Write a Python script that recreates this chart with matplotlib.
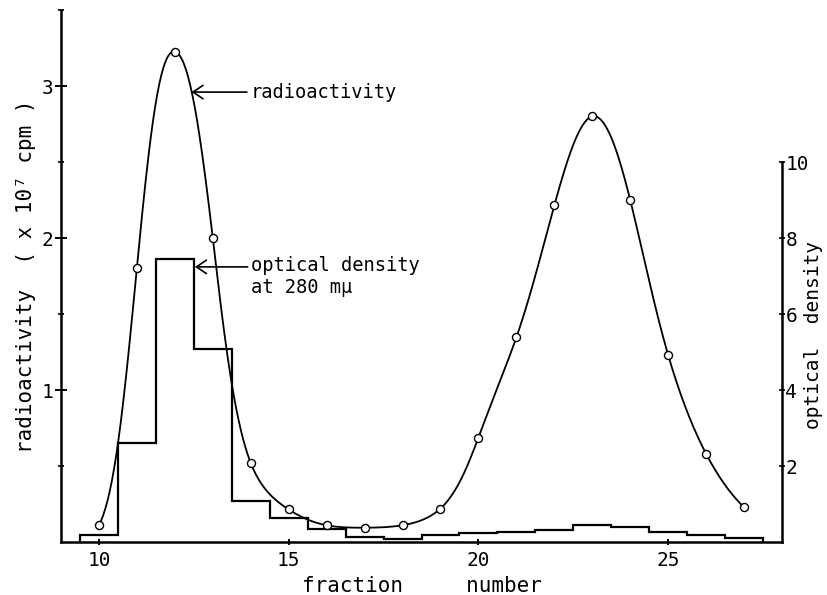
import numpy as np
import matplotlib.pyplot as plt

plt.rcParams['font.family'] = ['DejaVu Sans Mono', 'DejaVu Sans']

# radioactivity (x 10^7 cpm) per fraction
fraction = [10, 11, 12, 13, 14, 15, 16, 17, 18, 19, 20, 21, 22, 23, 24, 25, 26, 27]
radioactivity = [0.11, 1.805, 3.226, 2.00, 0.52, 0.214, 0.11, 0.094, 0.11,
                 0.22, 0.687, 1.346, 2.214, 2.80, 2.25, 1.23, 0.58, 0.228]

# optical density at 280 mu, one step per fraction
od_edges = [9.5, 10.5, 11.5, 12.5, 13.5, 14.5, 15.5, 16.5, 17.5, 18.5,
            19.5, 20.5, 21.5, 22.5, 23.5, 24.5, 25.5, 26.5, 27.5]
od_values = [0.18, 2.60, 7.45, 5.08, 1.08, 0.64, 0.34, 0.12, 0.07, 0.18,
             0.24, 0.27, 0.31, 0.46, 0.40, 0.26, 0.18, 0.10]

x_ticks = [10, 15, 20, 25]
left_ticks = [1, 2, 3]
right_ticks = [2, 4, 6, 8, 10]


def smooth_curve(x, y, xs):
    """cubic spline (not-a-knot) through the points, done on log values
    so the peaks keep their bell shape"""
    x = np.asarray(x, float)
    y = np.log(np.asarray(y, float))
    n = len(x)
    h = np.diff(x)
    A = np.zeros((n, n))
    r = np.zeros(n)
    A[0, :3] = [h[1], -(h[0] + h[1]), h[0]]
    A[-1, -3:] = [h[-1], -(h[-2] + h[-1]), h[-2]]
    for i in range(1, n - 1):
        A[i, i - 1] = h[i - 1]
        A[i, i] = 2 * (h[i - 1] + h[i])
        A[i, i + 1] = h[i]
        r[i] = 6 * ((y[i + 1] - y[i]) / h[i] - (y[i] - y[i - 1]) / h[i - 1])
    M = np.linalg.solve(A, r)
    k = np.clip(np.searchsorted(x, xs) - 1, 0, n - 2)
    x0, x1, hk = x[k], x[k + 1], h[k]
    s = (M[k] * (x1 - xs) ** 3 / (6 * hk) + M[k + 1] * (xs - x0) ** 3 / (6 * hk)
         + (y[k] / hk - M[k] * hk / 6) * (x1 - xs)
         + (y[k + 1] / hk - M[k + 1] * hk / 6) * (xs - x0))
    return np.exp(s)


fig = plt.figure(figsize=(8.27, 5.95), dpi=100)
ax = fig.add_axes([61 / 827, 53 / 595, 721 / 827, 532 / 595])
ax2 = ax.twinx()

# histogram of optical density (right axis)
ax2.stairs(od_values, od_edges, baseline=0, color='black', lw=1.6)
ax2.set_ylim(0, 14)

# radioactivity curve (left axis)
xs = np.linspace(fraction[0], fraction[-1], 600)
ax.plot(xs, smooth_curve(fraction, radioactivity, xs), color='black', lw=1.3)
ax.plot(fraction, radioactivity, 'o', ms=5.8, mfc='white', mec='black', mew=1.0)
ax.set_xlim(9, 28)
ax.set_ylim(0, 3.5)
ax.set_zorder(ax2.get_zorder() + 1)
ax.patch.set_visible(False)

for s in ['top', 'right']:
    ax.spines[s].set_visible(False)
for s in ['top', 'left', 'bottom']:
    ax2.spines[s].set_visible(False)
for s in ['left', 'bottom']:
    ax.spines[s].set_linewidth(1.8)
ax2.spines['right'].set_linewidth(1.8)
ax2.spines['right'].set_bounds(0, 10)

ax.set_xticks(x_ticks)
ax.set_yticks(left_ticks)
ax.set_yticks([0.5, 1.5, 2.5, 3.5], minor=True)
ax.tick_params(axis='y', which='major', direction='inout', length=9, width=1.4,
               labelsize=14, pad=1)
ax.tick_params(axis='y', which='minor', direction='inout', length=5, width=1.2)
ax.tick_params(axis='x', direction='inout', length=5, width=1.4, labelsize=14, pad=4)

ax2.set_yticks(right_ticks)
ax2.tick_params(axis='y', direction='inout', length=5, width=1.2, labelsize=14, pad=0)

ax.set_ylabel('radioactivity  ( x 10\u2077 cpm )', fontsize=15)
ax.yaxis.set_label_coords(-0.035, 0.5)
ax.set_xlabel('fraction     number', fontsize=15)
ax.xaxis.set_label_coords(0.5, -0.064)
ax2.set_ylabel('optical  density', fontsize=14)
ax2.yaxis.set_label_coords(1.03, 0.39)

arrow = dict(arrowstyle='->,head_length=0.4,head_width=0.27', lw=1.2, color='black',
             shrinkA=0, shrinkB=0, mutation_scale=18)
ax.annotate('', xy=(12.44, 2.96), xytext=(13.9, 2.96), arrowprops=arrow)
ax.text(14.0, 2.96, 'radioactivity', va='center', ha='left', fontsize=13.5)
ax.annotate('', xy=(12.53, 1.81), xytext=(13.92, 1.81), arrowprops=arrow)
ax.text(14.0, 1.88, 'optical density\nat 280 m\u03bc', va='top', ha='left', fontsize=13.5)

fig.savefig('out.png', dpi=100)
